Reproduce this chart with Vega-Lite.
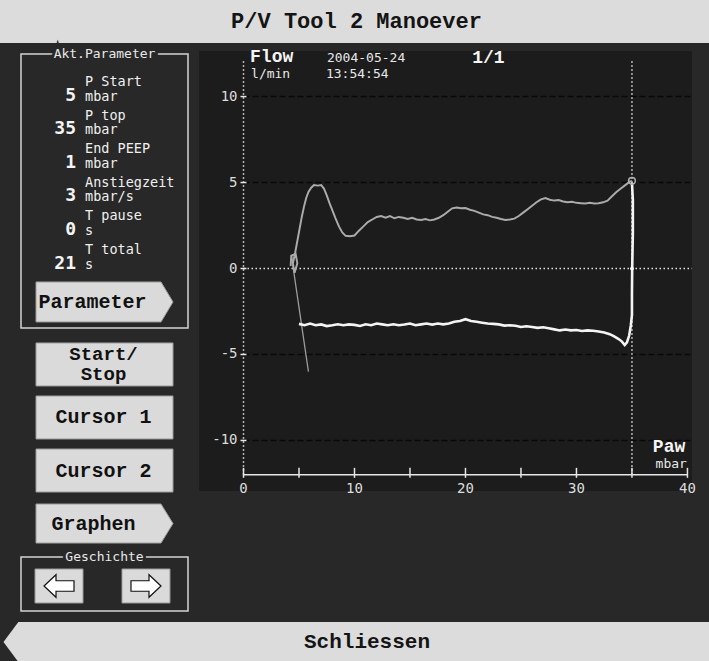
{
  "$schema": "https://vega.github.io/schema/vega-lite/v6.json",
  "background": "#282828",
  "padding": 0,
  "spacing": 0,
  "config": {"view": {"stroke": null}, "text": {"font": "DejaVu Sans Mono"}},
  "datasets": {
    "params": [
      {"name": "P Start", "unit": "mbar", "value": "5"},
      {"name": "P top", "unit": "mbar", "value": "35"},
      {"name": "End PEEP", "unit": "mbar", "value": "1"},
      {"name": "Anstiegzeit", "unit": "mbar/s", "value": "3"},
      {"name": "T pause", "unit": "s", "value": "0"},
      {"name": "T total", "unit": "s", "value": "21"}
    ],
    "curves": [
      {"s":"lead","i":0,"p":5.85,"f":-6.0},{"s":"lead","i":1,"p":5.6,"f":-4.9},{"s":"lead","i":2,"p":5.35,"f":-3.8},{"s":"lead","i":3,"p":5.1,"f":-2.7},{"s":"lead","i":4,"p":4.85,"f":-1.6},{"s":"lead","i":5,"p":4.6,"f":-0.5},{"s":"lead","i":6,"p":4.45,"f":0.2},{"s":"lead","i":7,"p":4.35,"f":0.75},
      {"s":"insp","i":0,"p":4.25,"f":0.15},{"s":"insp","i":1,"p":4.3,"f":0.75},{"s":"insp","i":2,"p":4.7,"f":0.85},{"s":"insp","i":3,"p":4.85,"f":0.3},{"s":"insp","i":4,"p":4.6,"f":-0.25},{"s":"insp","i":5,"p":4.45,"f":0.3},{"s":"insp","i":6,"p":4.65,"f":0.9},{"s":"insp","i":7,"p":4.85,"f":1.6},{"s":"insp","i":8,"p":5.05,"f":2.3},{"s":"insp","i":9,"p":5.25,"f":3.0},{"s":"insp","i":10,"p":5.45,"f":3.6},{"s":"insp","i":11,"p":5.65,"f":4.1},{"s":"insp","i":12,"p":5.85,"f":4.45},{"s":"insp","i":13,"p":6.1,"f":4.7},{"s":"insp","i":14,"p":6.35,"f":4.85},{"s":"insp","i":15,"p":6.7,"f":4.82},{"s":"insp","i":16,"p":7.0,"f":4.85},{"s":"insp","i":17,"p":7.25,"f":4.65},{"s":"insp","i":18,"p":7.5,"f":4.25},{"s":"insp","i":19,"p":7.75,"f":3.8},{"s":"insp","i":20,"p":8.0,"f":3.4},{"s":"insp","i":21,"p":8.3,"f":2.9},{"s":"insp","i":22,"p":8.6,"f":2.45},{"s":"insp","i":23,"p":8.9,"f":2.1},{"s":"insp","i":24,"p":9.2,"f":1.9},{"s":"insp","i":25,"p":9.6,"f":1.88},{"s":"insp","i":26,"p":10.0,"f":1.92},{"s":"insp","i":27,"p":10.4,"f":2.2},{"s":"insp","i":28,"p":10.8,"f":2.45},{"s":"insp","i":29,"p":11.2,"f":2.7},{"s":"insp","i":30,"p":11.6,"f":2.85},{"s":"insp","i":31,"p":12.0,"f":3.0},{"s":"insp","i":32,"p":12.4,"f":3.05},{"s":"insp","i":33,"p":12.8,"f":2.95},{"s":"insp","i":34,"p":13.2,"f":3.05},{"s":"insp","i":35,"p":13.6,"f":2.92},{"s":"insp","i":36,"p":14.0,"f":3.0},{"s":"insp","i":37,"p":14.4,"f":2.95},{"s":"insp","i":38,"p":14.8,"f":2.88},{"s":"insp","i":39,"p":15.2,"f":2.95},{"s":"insp","i":40,"p":15.6,"f":2.85},{"s":"insp","i":41,"p":16.0,"f":2.82},{"s":"insp","i":42,"p":16.4,"f":2.88},{"s":"insp","i":43,"p":16.8,"f":2.8},{"s":"insp","i":44,"p":17.2,"f":2.85},{"s":"insp","i":45,"p":17.6,"f":2.95},{"s":"insp","i":46,"p":18.0,"f":3.1},{"s":"insp","i":47,"p":18.4,"f":3.3},{"s":"insp","i":48,"p":18.8,"f":3.5},{"s":"insp","i":49,"p":19.2,"f":3.55},{"s":"insp","i":50,"p":19.6,"f":3.5},{"s":"insp","i":51,"p":20.0,"f":3.52},{"s":"insp","i":52,"p":20.4,"f":3.42},{"s":"insp","i":53,"p":20.8,"f":3.35},{"s":"insp","i":54,"p":21.2,"f":3.25},{"s":"insp","i":55,"p":21.6,"f":3.15},{"s":"insp","i":56,"p":22.0,"f":3.1},{"s":"insp","i":57,"p":22.4,"f":3.0},{"s":"insp","i":58,"p":22.8,"f":2.95},{"s":"insp","i":59,"p":23.2,"f":2.88},{"s":"insp","i":60,"p":23.6,"f":2.82},{"s":"insp","i":61,"p":24.0,"f":2.85},{"s":"insp","i":62,"p":24.4,"f":2.9},{"s":"insp","i":63,"p":24.8,"f":3.05},{"s":"insp","i":64,"p":25.2,"f":3.25},{"s":"insp","i":65,"p":25.6,"f":3.45},{"s":"insp","i":66,"p":26.0,"f":3.65},{"s":"insp","i":67,"p":26.4,"f":3.85},{"s":"insp","i":68,"p":26.8,"f":4.02},{"s":"insp","i":69,"p":27.2,"f":4.1},{"s":"insp","i":70,"p":27.6,"f":4.0},{"s":"insp","i":71,"p":28.0,"f":3.95},{"s":"insp","i":72,"p":28.4,"f":3.98},{"s":"insp","i":73,"p":28.8,"f":3.9},{"s":"insp","i":74,"p":29.2,"f":3.85},{"s":"insp","i":75,"p":29.6,"f":3.88},{"s":"insp","i":76,"p":30.0,"f":3.82},{"s":"insp","i":77,"p":30.4,"f":3.8},{"s":"insp","i":78,"p":30.8,"f":3.78},{"s":"insp","i":79,"p":31.2,"f":3.82},{"s":"insp","i":80,"p":31.6,"f":3.78},{"s":"insp","i":81,"p":32.0,"f":3.8},{"s":"insp","i":82,"p":32.4,"f":3.85},{"s":"insp","i":83,"p":32.8,"f":3.95},{"s":"insp","i":84,"p":33.2,"f":4.2},{"s":"insp","i":85,"p":33.6,"f":4.45},{"s":"insp","i":86,"p":34.0,"f":4.65},{"s":"insp","i":87,"p":34.4,"f":4.85},{"s":"insp","i":88,"p":34.8,"f":5.05},{"s":"insp","i":89,"p":35.0,"f":5.1},
      {"s":"exp","i":0,"p":35.0,"f":5.0},{"s":"exp","i":1,"p":35.08,"f":4.0},{"s":"exp","i":2,"p":35.08,"f":2.0},{"s":"exp","i":3,"p":35.02,"f":0.0},{"s":"exp","i":4,"p":35.0,"f":-1.5},{"s":"exp","i":5,"p":35.0,"f":-2.7},{"s":"exp","i":6,"p":34.9,"f":-3.3},{"s":"exp","i":7,"p":34.75,"f":-3.9},{"s":"exp","i":8,"p":34.55,"f":-4.3},{"s":"exp","i":9,"p":34.35,"f":-4.45},{"s":"exp","i":10,"p":34.1,"f":-4.25},{"s":"exp","i":11,"p":33.8,"f":-4.1},{"s":"exp","i":12,"p":33.4,"f":-3.95},{"s":"exp","i":13,"p":33.0,"f":-3.82},{"s":"exp","i":14,"p":32.5,"f":-3.72},{"s":"exp","i":15,"p":32.0,"f":-3.66},{"s":"exp","i":16,"p":31.5,"f":-3.62},{"s":"exp","i":17,"p":31.0,"f":-3.6},{"s":"exp","i":18,"p":30.5,"f":-3.63},{"s":"exp","i":19,"p":30.0,"f":-3.58},{"s":"exp","i":20,"p":29.5,"f":-3.6},{"s":"exp","i":21,"p":29.0,"f":-3.55},{"s":"exp","i":22,"p":28.5,"f":-3.6},{"s":"exp","i":23,"p":28.0,"f":-3.54},{"s":"exp","i":24,"p":27.5,"f":-3.48},{"s":"exp","i":25,"p":27.0,"f":-3.42},{"s":"exp","i":26,"p":26.5,"f":-3.45},{"s":"exp","i":27,"p":26.0,"f":-3.4},{"s":"exp","i":28,"p":25.5,"f":-3.36},{"s":"exp","i":29,"p":25.0,"f":-3.4},{"s":"exp","i":30,"p":24.5,"f":-3.33},{"s":"exp","i":31,"p":24.0,"f":-3.3},{"s":"exp","i":32,"p":23.5,"f":-3.32},{"s":"exp","i":33,"p":23.0,"f":-3.25},{"s":"exp","i":34,"p":22.5,"f":-3.22},{"s":"exp","i":35,"p":22.0,"f":-3.2},{"s":"exp","i":36,"p":21.5,"f":-3.15},{"s":"exp","i":37,"p":21.0,"f":-3.1},{"s":"exp","i":38,"p":20.5,"f":-3.05},{"s":"exp","i":39,"p":20.0,"f":-2.95},{"s":"exp","i":40,"p":19.5,"f":-3.05},{"s":"exp","i":41,"p":19.0,"f":-3.1},{"s":"exp","i":42,"p":18.5,"f":-3.2},{"s":"exp","i":43,"p":18.0,"f":-3.25},{"s":"exp","i":44,"p":17.5,"f":-3.2},{"s":"exp","i":45,"p":17.0,"f":-3.26},{"s":"exp","i":46,"p":16.5,"f":-3.2},{"s":"exp","i":47,"p":16.0,"f":-3.25},{"s":"exp","i":48,"p":15.5,"f":-3.3},{"s":"exp","i":49,"p":15.0,"f":-3.2},{"s":"exp","i":50,"p":14.5,"f":-3.26},{"s":"exp","i":51,"p":14.0,"f":-3.3},{"s":"exp","i":52,"p":13.5,"f":-3.24},{"s":"exp","i":53,"p":13.0,"f":-3.3},{"s":"exp","i":54,"p":12.5,"f":-3.25},{"s":"exp","i":55,"p":12.0,"f":-3.2},{"s":"exp","i":56,"p":11.5,"f":-3.3},{"s":"exp","i":57,"p":11.0,"f":-3.24},{"s":"exp","i":58,"p":10.5,"f":-3.34},{"s":"exp","i":59,"p":10.0,"f":-3.28},{"s":"exp","i":60,"p":9.5,"f":-3.25},{"s":"exp","i":61,"p":9.0,"f":-3.3},{"s":"exp","i":62,"p":8.5,"f":-3.24},{"s":"exp","i":63,"p":8.0,"f":-3.3},{"s":"exp","i":64,"p":7.5,"f":-3.35},{"s":"exp","i":65,"p":7.0,"f":-3.25},{"s":"exp","i":66,"p":6.5,"f":-3.3},{"s":"exp","i":67,"p":6.0,"f":-3.2},{"s":"exp","i":68,"p":5.5,"f":-3.3},{"s":"exp","i":69,"p":5.0,"f":-3.22}
    ]
  },
  "vconcat": [
    {
      "width": 709, "height": 43,
      "view": {"fill": "#dcdcdc"},
      "data": {"values": [{"t": "P/V Tool 2 Manoever"}]},
      "mark": {"type": "text", "font": "Liberation Mono", "fontWeight": "bold", "fontSize": 22, "color": "#141414", "dx": 2, "dy": -1},
      "encoding": {"text": {"field": "t"}}
    },
    {
      "hconcat": [
        {"width": 10, "height": 10, "data": {"values": [{}]}, "mark": {"type": "text", "text": ""}, "encoding": {}},
        {
          "vconcat": [
            {"width": 167, "height": 7, "data": {"values": [{}]}, "mark": {"type": "text", "text": ""}, "encoding": {}},
            {
              "width": 167, "height": 274,
              "layer": [
                {"data": {"values": [{}]}, "mark": {"type": "rect", "fillOpacity": 0, "stroke": "#d4d4d4", "strokeWidth": 1.5}, "encoding": {}},
                {"data": {"values": [{"t": "Akt.Parameter"}]}, "mark": {"type": "text", "fontSize": 13, "color": "#282828", "stroke": "#282828", "strokeWidth": 6, "baseline": "middle"}, "encoding": {"text": {"field": "t"}, "y": {"value": 0}}},
                {"data": {"values": [{"t": "Akt.Parameter"}]}, "mark": {"type": "text", "fontSize": 13, "color": "#e8e8e8", "baseline": "middle"}, "encoding": {"text": {"field": "t"}, "y": {"value": 0}}},
                {"data": {"name": "params"}, "mark": {"type": "text", "fontSize": 13.5, "color": "#f0f0f0", "align": "left", "baseline": "middle", "dx": -19.5, "dy": -7},
                 "encoding": {"y": {"field": "name", "type": "nominal", "sort": null, "scale": {"type": "point", "range": [35, 203], "padding": 0}, "axis": null}, "text": {"field": "name"}}},
                {"data": {"name": "params"}, "mark": {"type": "text", "fontSize": 13.5, "color": "#f0f0f0", "align": "left", "baseline": "middle", "dx": -19.5, "dy": 7.5},
                 "encoding": {"y": {"field": "name", "type": "nominal", "sort": null, "scale": {"type": "point", "range": [35, 203], "padding": 0}, "axis": null}, "text": {"field": "unit"}}},
                {"data": {"name": "params"}, "mark": {"type": "text", "fontSize": 18, "fontWeight": "bold", "color": "#f4f4f4", "align": "right", "baseline": "middle", "dx": -28.5, "dy": 6.5},
                 "encoding": {"y": {"field": "name", "type": "nominal", "sort": null, "scale": {"type": "point", "range": [35, 203], "padding": 0}, "axis": null}, "text": {"field": "value"}}},
                {"data": {"values": [{"b": "Parameter"}]},
                 "mark": {"type": "point", "shape": "M-1,-0.292L0.825,-0.292L1,0L0.825,0.292L-1,0.292Z", "size": 18769, "filled": true, "fill": "#dadada", "stroke": "#9a9a9a", "strokeWidth": 1, "opacity": 1},
                 "encoding": {"y": {"field": "b", "type": "nominal", "scale": {"type": "point", "align": 0.905}, "axis": null}}},
                {"data": {"values": [{"b": "Parameter"}]},
                 "mark": {"type": "text", "font": "Liberation Mono", "fontWeight": "bold", "fontSize": 20, "color": "#111111", "dx": -12, "baseline": "middle"},
                 "encoding": {"y": {"field": "b", "type": "nominal", "scale": {"type": "point", "align": 0.905}, "axis": null}, "text": {"field": "b"}}}
              ],
              "resolve": {"scale": {"y": "independent"}}
            },
            {"width": 167, "height": 15, "data": {"values": [{}]}, "mark": {"type": "text", "text": ""}, "encoding": {}},
            {
              "width": 167, "height": 202,
              "data": {"values": [{"b": "Start/\nStop", "k": "multi"}, {"b": "Cursor 1", "k": "rect"}, {"b": "Cursor 2", "k": "rect"}, {"b": "Graphen", "k": "arrow"}]},
              "encoding": {"y": {"field": "b", "type": "nominal", "sort": null, "scale": {"type": "band", "paddingInner": 0.19, "paddingOuter": 0}, "axis": null}},
              "layer": [
                {"transform": [{"filter": "datum.k != 'arrow'"}],
                 "mark": {"type": "point", "shape": "M-1,-0.314L1,-0.314L1,0.314L-1,0.314Z", "size": 18769, "filled": true, "fill": "#dadada", "stroke": "#9a9a9a", "strokeWidth": 1, "opacity": 1}},
                {"transform": [{"filter": "datum.k == 'arrow'"}],
                 "mark": {"type": "point", "shape": "M-1,-0.285L0.825,-0.285L1,0L0.825,0.285L-1,0.285Z", "size": 18769, "filled": true, "fill": "#dadada", "stroke": "#9a9a9a", "strokeWidth": 1, "opacity": 1}},
                {"transform": [{"filter": "datum.k == 'multi'"}],
                 "mark": {"type": "text", "font": "Liberation Mono", "fontWeight": "bold", "fontSize": 19, "color": "#111111", "lineBreak": "\n", "lineHeight": 20, "dx": -1, "dy": -10, "baseline": "middle"},
                 "encoding": {"text": {"field": "b"}}},
                {"transform": [{"filter": "datum.k == 'rect'"}],
                 "mark": {"type": "text", "font": "Liberation Mono", "fontWeight": "bold", "fontSize": 20, "color": "#111111", "dx": -1, "baseline": "middle"},
                 "encoding": {"text": {"field": "b"}}},
                {"transform": [{"filter": "datum.k == 'arrow'"}],
                 "mark": {"type": "text", "font": "Liberation Mono", "fontWeight": "bold", "fontSize": 20, "color": "#111111", "dx": -11, "baseline": "middle"},
                 "encoding": {"text": {"field": "b"}}}
              ]
            },
            {"width": 167, "height": 12, "data": {"values": [{}]}, "mark": {"type": "text", "text": ""}, "encoding": {}},
            {
              "width": 167, "height": 54,
              "layer": [
                {"data": {"values": [{}]}, "mark": {"type": "rect", "fillOpacity": 0, "stroke": "#d4d4d4", "strokeWidth": 1.5}, "encoding": {}},
                {"data": {"values": [{"t": "Geschichte"}]}, "mark": {"type": "text", "fontSize": 13, "color": "#282828", "stroke": "#282828", "strokeWidth": 6, "baseline": "middle"}, "encoding": {"text": {"field": "t"}, "y": {"value": 0}}},
                {"data": {"values": [{"t": "Geschichte"}]}, "mark": {"type": "text", "fontSize": 13, "color": "#e8e8e8", "baseline": "middle"}, "encoding": {"text": {"field": "t"}, "y": {"value": 0}}},
                {
                  "data": {"values": [{"d": "L"}, {"d": "R"}]},
                  "encoding": {"x": {"field": "d", "type": "nominal", "sort": null, "scale": {"type": "point", "padding": 0.46, "align": 0.475}, "axis": null}},
                  "layer": [
                    {"mark": {"type": "point", "shape": "M-1,-0.708L1,-0.708L1,0.708L-1,0.708Z", "size": 2304, "filled": true, "fill": "#dadada", "stroke": "#9a9a9a", "strokeWidth": 1, "opacity": 1, "yOffset": 2}},
                    {"transform": [{"filter": "datum.d == 'L'"}],
                     "mark": {"type": "point", "shape": "M-1,0L-0.2,-0.75L-0.2,-0.35L1,-0.35L1,0.35L-0.2,0.35L-0.2,0.75Z", "size": 900, "filled": true, "fill": "#ffffff", "stroke": "#111111", "strokeWidth": 1.2, "opacity": 1, "yOffset": 2}},
                    {"transform": [{"filter": "datum.d == 'R'"}],
                     "mark": {"type": "point", "shape": "M1,0L0.2,-0.75L0.2,-0.35L-1,-0.35L-1,0.35L0.2,0.35L0.2,0.75Z", "size": 900, "filled": true, "fill": "#ffffff", "stroke": "#111111", "strokeWidth": 1.2, "opacity": 1, "yOffset": 2}}
                  ]
                }
              ]
            },
            {"width": 167, "height": 8, "data": {"values": [{}]}, "mark": {"type": "text", "text": ""}, "encoding": {}}
          ],
          "spacing": 0,
          "bounds": "flush"
        },
        {
          "vconcat": [
            {"width": 493, "height": 4, "data": {"values": [{}]}, "mark": {"type": "text", "text": ""}, "encoding": {}},
            {
              "width": 493, "height": 440,
              "view": {"fill": "#1c1c1c"},
              "layer": [
                {"data": {"values": [{"g": 10}, {"g": 5}, {"g": -5}, {"g": -10}]},
                 "mark": {"type": "rule", "color": "#080808", "strokeWidth": 1.5, "strokeDash": [6, 3]},
                 "encoding": {"y": {"field": "g", "type": "quantitative", "scale": {"domain": [-12.94, 12.65], "nice": false, "zero": false}, "axis": null},
                              "x": {"datum": 0, "type": "quantitative", "scale": {"domain": [-4.01, 40.41], "nice": false, "zero": false}, "axis": null},
                              "x2": {"datum": 40.4}}},
                {"data": {"values": [{}]},
                 "mark": {"type": "rule", "color": "#e6e6e6", "strokeWidth": 1.5, "strokeDash": [1.5, 2.5]},
                 "encoding": {"y": {"datum": 0, "type": "quantitative", "scale": {"domain": [-12.94, 12.65], "nice": false, "zero": false}, "axis": null},
                              "x": {"datum": 0, "type": "quantitative", "scale": {"domain": [-4.01, 40.41], "nice": false, "zero": false}, "axis": null},
                              "x2": {"datum": 40.4}}},
                {"data": {"values": [{"c": 0}, {"c": 35}]},
                 "mark": {"type": "rule", "color": "#e6e6e6", "strokeWidth": 1.5, "strokeDash": [1.5, 2.5]},
                 "encoding": {"x": {"field": "c", "type": "quantitative", "scale": {"domain": [-4.01, 40.41], "nice": false, "zero": false}, "axis": null},
                              "y": {"datum": -12, "type": "quantitative", "scale": {"domain": [-12.94, 12.65], "nice": false, "zero": false}, "axis": null},
                              "y2": {"datum": 12.2}}},
                {"data": {"values": [{}]},
                 "mark": {"type": "rule", "color": "#e6e6e6", "strokeWidth": 1.5},
                 "encoding": {"y": {"datum": -12, "type": "quantitative", "scale": {"domain": [-12.94, 12.65], "nice": false, "zero": false}, "axis": null},
                              "x": {"datum": 0, "type": "quantitative", "scale": {"domain": [-4.01, 40.41], "nice": false, "zero": false}, "axis": null},
                              "x2": {"datum": 40}}},
                {"data": {"values": [{"t": 0}, {"t": 5}, {"t": 10}, {"t": 15}, {"t": 20}, {"t": 25}, {"t": 30}, {"t": 35}, {"t": 40}]},
                 "mark": {"type": "tick", "orient": "vertical", "size": 10, "thickness": 1.5, "color": "#e6e6e6", "opacity": 1, "yOffset": -2},
                 "encoding": {"x": {"field": "t", "type": "quantitative", "scale": {"domain": [-4.01, 40.41], "nice": false, "zero": false}, "axis": null},
                              "y": {"datum": -12, "type": "quantitative", "scale": {"domain": [-12.94, 12.65], "nice": false, "zero": false}, "axis": null}}},
                {"data": {"values": [{"t": -10}, {"t": -5}, {"t": 0}, {"t": 5}, {"t": 10}]},
                 "mark": {"type": "tick", "orient": "horizontal", "size": 6, "thickness": 1.5, "color": "#e6e6e6", "opacity": 1},
                 "encoding": {"y": {"field": "t", "type": "quantitative", "scale": {"domain": [-12.94, 12.65], "nice": false, "zero": false}, "axis": null},
                              "x": {"datum": 0, "type": "quantitative", "scale": {"domain": [-4.01, 40.41], "nice": false, "zero": false}, "axis": null}}},
                {"data": {"values": [{"v": 0}, {"v": 10}, {"v": 20}, {"v": 30}, {"v": 40}]},
                 "mark": {"type": "text", "fontSize": 14, "color": "#dcdcdc", "align": "center", "baseline": "top", "dy": 7},
                 "encoding": {"x": {"field": "v", "type": "quantitative", "scale": {"domain": [-4.01, 40.41], "nice": false, "zero": false}, "axis": null},
                              "y": {"datum": -12, "type": "quantitative", "scale": {"domain": [-12.94, 12.65], "nice": false, "zero": false}, "axis": null},
                              "text": {"field": "v", "type": "nominal"}}},
                {"data": {"values": [{"v": 10}, {"v": 5}, {"v": 0}, {"v": -5}, {"v": -10}]},
                 "mark": {"type": "text", "fontSize": 14, "color": "#dcdcdc", "align": "right", "baseline": "middle", "dx": -6},
                 "encoding": {"y": {"field": "v", "type": "quantitative", "scale": {"domain": [-12.94, 12.65], "nice": false, "zero": false}, "axis": null},
                              "x": {"datum": 0, "type": "quantitative", "scale": {"domain": [-4.01, 40.41], "nice": false, "zero": false}, "axis": null},
                              "text": {"field": "v", "type": "nominal"}}},
                {"data": {"name": "curves"},
                 "mark": {"type": "line", "interpolate": "linear"},
                 "encoding": {
                   "x": {"field": "p", "type": "quantitative", "scale": {"domain": [-4.01, 40.41], "nice": false, "zero": false}, "axis": null},
                   "y": {"field": "f", "type": "quantitative", "scale": {"domain": [-12.94, 12.65], "nice": false, "zero": false}, "axis": null},
                   "order": {"field": "i", "type": "quantitative"},
                   "color": {"field": "s", "type": "nominal", "scale": {"domain": ["lead", "insp", "exp"], "range": ["#9c9c9c", "#ababab", "#f4f4f4"]}, "legend": null},
                   "strokeWidth": {"field": "s", "type": "nominal", "scale": {"domain": ["lead", "insp", "exp"], "range": [1.3, 2.6, 2.0]}, "legend": null}
                 }},
                {"data": {"values": [{}]},
                 "mark": {"type": "point", "filled": false, "color": "#b0b0b0", "size": 45, "strokeWidth": 1.5, "opacity": 1},
                 "encoding": {"x": {"datum": 35, "type": "quantitative", "scale": {"domain": [-4.01, 40.41], "nice": false, "zero": false}, "axis": null},
                              "y": {"datum": 5.1, "type": "quantitative", "scale": {"domain": [-12.94, 12.65], "nice": false, "zero": false}, "axis": null}}},
                {"data": {"values": [{}]},
                 "mark": {"type": "point", "filled": true, "color": "#ffffff", "size": 14, "opacity": 1},
                 "encoding": {"x": {"datum": 35, "type": "quantitative", "scale": {"domain": [-4.01, 40.41], "nice": false, "zero": false}, "axis": null},
                              "y": {"datum": 0, "type": "quantitative", "scale": {"domain": [-12.94, 12.65], "nice": false, "zero": false}, "axis": null}}},
                {"data": {"values": [{"t": "Flow"}]},
                 "mark": {"type": "text", "font": "Liberation Mono", "fontWeight": "bold", "fontSize": 18, "color": "#f4f4f4", "align": "left", "baseline": "alphabetic"},
                 "encoding": {"text": {"field": "t"}, "x": {"datum": 0.59, "type": "quantitative", "scale": {"domain": [-4.01, 40.41], "nice": false, "zero": false}, "axis": null},
                              "y": {"datum": 12.02, "type": "quantitative", "scale": {"domain": [-12.94, 12.65], "nice": false, "zero": false}, "axis": null}}},
                {"data": {"values": [{"t": "l/min"}]},
                 "mark": {"type": "text", "fontSize": 13, "color": "#e8e8e8", "align": "left", "baseline": "alphabetic"},
                 "encoding": {"text": {"field": "t"}, "x": {"datum": 0.68, "type": "quantitative", "scale": {"domain": [-4.01, 40.41], "nice": false, "zero": false}, "axis": null},
                              "y": {"datum": 11.1, "type": "quantitative", "scale": {"domain": [-12.94, 12.65], "nice": false, "zero": false}, "axis": null}}},
                {"data": {"values": [{"t": "2004-05-24"}]},
                 "mark": {"type": "text", "fontSize": 13, "color": "#e8e8e8", "align": "left", "baseline": "alphabetic"},
                 "encoding": {"text": {"field": "t"}, "x": {"datum": 7.52, "type": "quantitative", "scale": {"domain": [-4.01, 40.41], "nice": false, "zero": false}, "axis": null},
                              "y": {"datum": 12.02, "type": "quantitative", "scale": {"domain": [-12.94, 12.65], "nice": false, "zero": false}, "axis": null}}},
                {"data": {"values": [{"t": "13:54:54"}]},
                 "mark": {"type": "text", "fontSize": 13, "color": "#e8e8e8", "align": "left", "baseline": "alphabetic"},
                 "encoding": {"text": {"field": "t"}, "x": {"datum": 7.43, "type": "quantitative", "scale": {"domain": [-4.01, 40.41], "nice": false, "zero": false}, "axis": null},
                              "y": {"datum": 11.1, "type": "quantitative", "scale": {"domain": [-12.94, 12.65], "nice": false, "zero": false}, "axis": null}}},
                {"data": {"values": [{"t": "1/1"}]},
                 "mark": {"type": "text", "font": "Liberation Mono", "fontWeight": "bold", "fontSize": 18, "color": "#f4f4f4", "align": "left", "baseline": "alphabetic"},
                 "encoding": {"text": {"field": "t"}, "x": {"datum": 20.6, "type": "quantitative", "scale": {"domain": [-4.01, 40.41], "nice": false, "zero": false}, "axis": null},
                              "y": {"datum": 11.95, "type": "quantitative", "scale": {"domain": [-12.94, 12.65], "nice": false, "zero": false}, "axis": null}}},
                {"data": {"values": [{"t": "Paw"}]},
                 "mark": {"type": "text", "font": "Liberation Mono", "fontWeight": "bold", "fontSize": 18, "color": "#f4f4f4", "align": "right", "baseline": "alphabetic"},
                 "encoding": {"text": {"field": "t"}, "x": {"datum": 39.8, "type": "quantitative", "scale": {"domain": [-4.01, 40.41], "nice": false, "zero": false}, "axis": null},
                              "y": {"datum": -10.7, "type": "quantitative", "scale": {"domain": [-12.94, 12.65], "nice": false, "zero": false}, "axis": null}}},
                {"data": {"values": [{"t": "mbar"}]},
                 "mark": {"type": "text", "fontSize": 13, "color": "#e8e8e8", "align": "right", "baseline": "alphabetic"},
                 "encoding": {"text": {"field": "t"}, "x": {"datum": 39.95, "type": "quantitative", "scale": {"domain": [-4.01, 40.41], "nice": false, "zero": false}, "axis": null},
                              "y": {"datum": -11.6, "type": "quantitative", "scale": {"domain": [-12.94, 12.65], "nice": false, "zero": false}, "axis": null}}}
              ]
            }
          ],
          "spacing": 0,
          "bounds": "flush"
        }
      ],
      "spacing": 10
    },
    {
      "width": 709, "height": 41,
      "data": {"values": [{"t": "Schliessen"}]},
      "layer": [
        {"mark": {"type": "point", "shape": "M-1,0L-0.958,-0.0565L1,-0.0565L1,0.0565L-0.958,0.0565Z", "size": 501264, "filled": true, "fill": "#dcdcdc", "strokeWidth": 0, "opacity": 1, "xOffset": 3, "yOffset": 1.5}},
        {"mark": {"type": "text", "font": "Liberation Mono", "fontWeight": "bold", "fontSize": 21, "color": "#141414", "dx": 12.5, "dy": 1.5, "baseline": "middle"},
         "encoding": {"text": {"field": "t"}}}
      ]
    }
  ]
}
